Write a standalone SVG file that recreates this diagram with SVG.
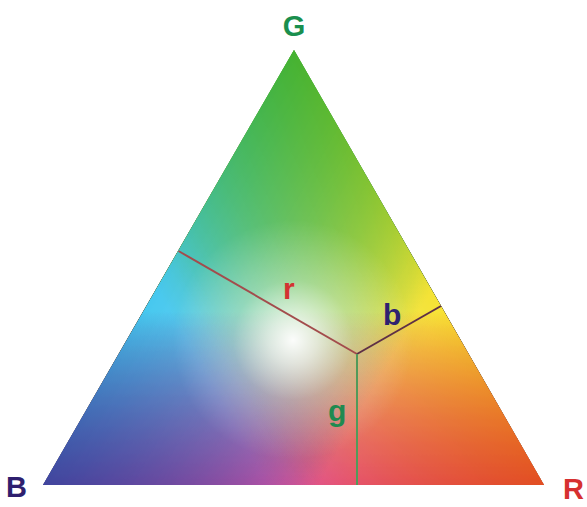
<svg xmlns="http://www.w3.org/2000/svg" width="587" height="507" viewBox="0 0 587 507">
<style>
.lbl{font-family:"Liberation Sans",Arial,sans-serif;font-weight:bold;font-size:29px}
.sl{font-family:"Liberation Sans",Arial,sans-serif;font-weight:bold;font-size:30px}
.scr{mix-blend-mode:screen}
</style>
<defs>
<linearGradient id="gR" gradientUnits="userSpaceOnUse" x1="544" y1="485" x2="168.1" y2="268.2"><stop offset="0" stop-color="#f00"/><stop offset="1" stop-color="#000"/></linearGradient>
<linearGradient id="gG" gradientUnits="userSpaceOnUse" x1="294" y1="50" x2="294" y2="485"><stop offset="0" stop-color="#0f0"/><stop offset="1" stop-color="#000"/></linearGradient>
<linearGradient id="gB" gradientUnits="userSpaceOnUse" x1="43" y1="485" x2="419.6" y2="268.6"><stop offset="0" stop-color="#00f"/><stop offset="1" stop-color="#000"/></linearGradient>
<radialGradient id="glow" gradientUnits="userSpaceOnUse" cx="293" cy="340" r="120">
<stop offset="0" stop-color="#fff" stop-opacity="0.97"/>
<stop offset="0.2" stop-color="#fff" stop-opacity="0.72"/>
<stop offset="0.5" stop-color="#fff" stop-opacity="0.28"/>
<stop offset="1" stop-color="#fff" stop-opacity="0"/>
</radialGradient>
<filter id="ink" filterUnits="userSpaceOnUse" x="0" y="0" width="587" height="507" color-interpolation-filters="sRGB">
<feComponentTransfer in="SourceGraphic" result="n">
<feFuncR type="table" tableValues="0 .042 .089 .141 .2 .267 .343 .431 .533 .655 .8 .978 1 1 1 1 1 1 1 1 1"/>
<feFuncG type="table" tableValues="0 .079 .167 .265 .375 .5 .643 .808 1 1 1 1 1 1 1 1 1 1 1 1 1"/>
<feFuncB type="table" tableValues="0 .047 .1 .159 .225 .3 .386 .485 .6 .736 .9 1 1 1 1 1 1 1 1 1 1"/>
</feComponentTransfer>
<feColorMatrix in="n" type="matrix" values="0 0 0 0 0.20  0 0 0 0 0.76  0 0 0 0 0.93  -0.9 0 0 0 0.9" result="c"/>
<feColorMatrix in="n" type="matrix" values="0 0 0 0 0.90  0 0 0 0 0.27  0 0 0 0 0.62  0 -0.9 0 0 0.9" result="m"/>
<feColorMatrix in="n" type="matrix" values="0 0 0 0 0.97  0 0 0 0 0.88  0 0 0 0 0.12  0 0 -0.9 0 0.9" result="y"/>
<feFlood flood-color="#fff" result="w"/>
<feBlend in="c" in2="w" mode="multiply" result="b1"/>
<feBlend in="m" in2="b1" mode="multiply" result="b2"/>
<feBlend in="y" in2="b2" mode="multiply" result="b3"/>
<feComposite in="b3" in2="SourceAlpha" operator="in"/>
</filter>
</defs>
<g id="triangle">
<g filter="url(#ink)">
<polygon points="294,50 43,485 544,485" fill="url(#gR)"/>
<polygon class="scr" points="294,50 43,485 544,485" fill="url(#gG)"/>
<polygon class="scr" points="294,50 43,485 544,485" fill="url(#gB)"/>
</g>
<polygon points="294,50 43,485 544,485" fill="url(#glow)"/>
</g>
<g id="connectors" fill="none" stroke-width="2">
<line x1="357" y1="354" x2="178.5" y2="251" stroke="#a34c4c"/>
<line x1="357" y1="354" x2="441" y2="306" stroke="#5e3046"/>
<line x1="357" y1="354" x2="357" y2="485" stroke="#529a5a"/>
</g>
<g id="label-G"><text class="lbl" x="294" y="36" text-anchor="middle" fill="#1a8f4e">G</text></g>
<g id="label-B"><text class="lbl" x="6" y="497" fill="#2e1f6e">B</text></g>
<g id="label-R"><text class="lbl" x="563" y="499" fill="#d63030">R</text></g>
<g id="label-r"><text class="sl" x="283" y="299" fill="#d43232">r</text></g>
<g id="label-b"><text class="sl" x="383" y="325" fill="#2e2270">b</text></g>
<g id="label-g"><text class="sl" x="328" y="421" fill="#1f8a50">g</text></g>
</svg>
